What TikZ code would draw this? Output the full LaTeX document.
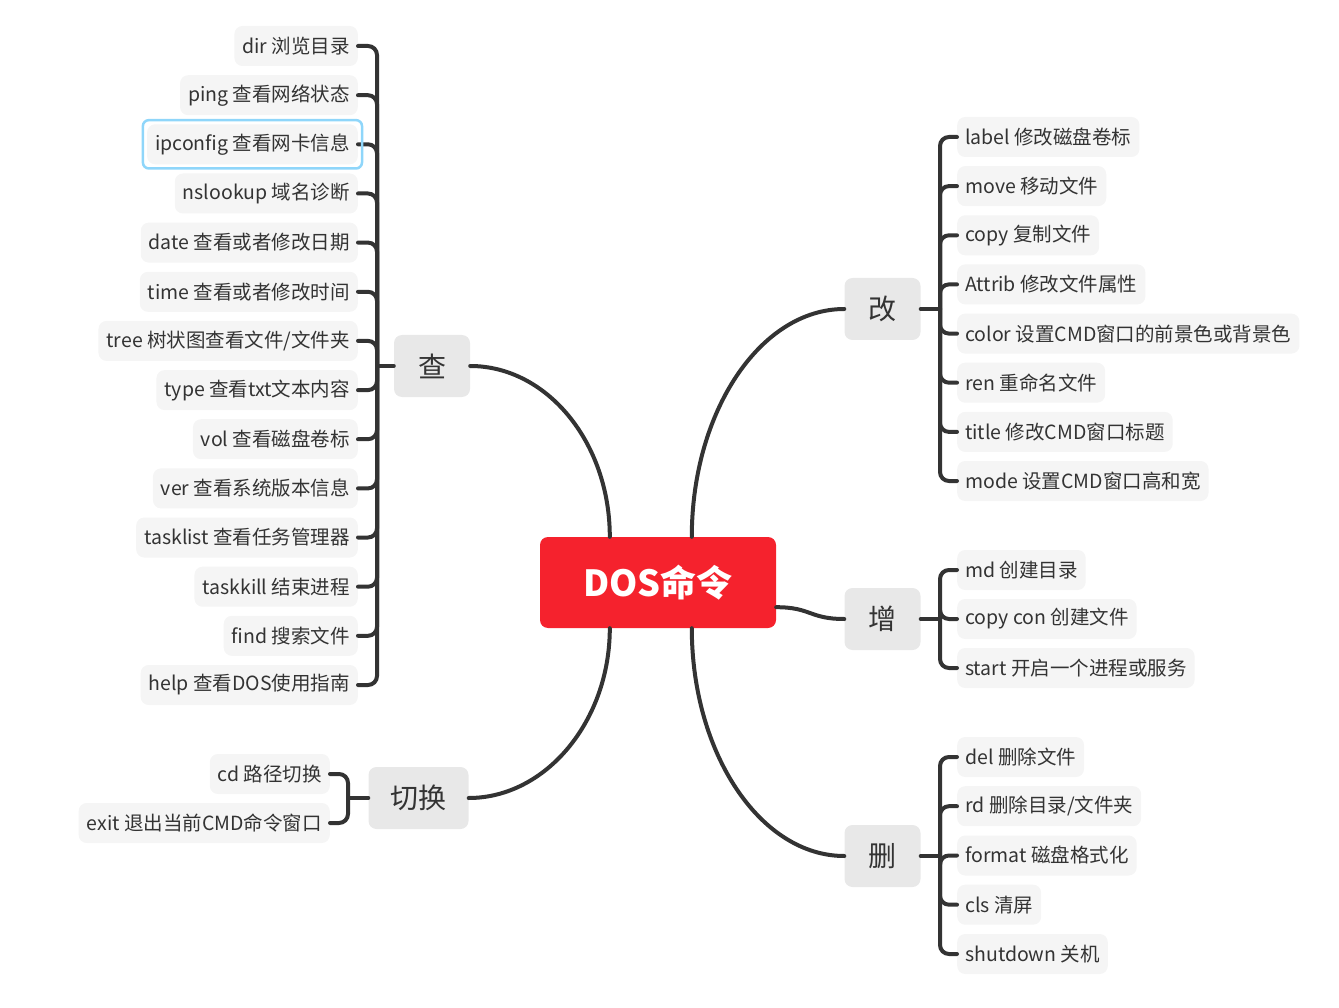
\documentclass[tikz,border=0pt]{standalone}
\usepackage{fontspec}
\setmainfont{Noto Sans CJK SC}
\usetikzlibrary{calc,fit}
\definecolor{rootred}{HTML}{F5222D}
\definecolor{topicgray}{HTML}{E8E8E8}
\definecolor{leafgray}{HTML}{F5F5F5}
\definecolor{txt}{HTML}{333333}
\definecolor{linec}{HTML}{333333}
\definecolor{selblue}{HTML}{8FD6FA}
\begin{document}
\begin{tikzpicture}[x=1pt,y=-1pt,
  leaf/.style={fill=leafgray, rounded corners=8pt, minimum height=40pt, inner xsep=8pt, inner ysep=0pt, text=txt, font=\fontsize{19.5}{23}\selectfont},
  topic/.style={fill=topicgray, rounded corners=8pt, minimum height=62pt, minimum width=76pt, inner xsep=22pt, text=txt, font=\fontsize{28}{32}\selectfont},
  rootbox/.style={fill=rootred, rounded corners=8pt, minimum height=91pt, minimum width=236pt, text=white, font=\fontsize{36}{40}\selectfont\bfseries},
  conn/.style={draw=linec, line width=4pt, line cap=round},
  brk/.style={conn, rounded corners=9pt}]
\useasboundingbox (0,0) rectangle (1339,1008);

% root and topics
\node[rootbox] (root) at (658,582.5) {DOS命令};
\node[topic] (cha) at (432,366) {查};
\node[topic] (gai) at (882.5,309) {改};
\node[topic] (zeng) at (882.5,619) {增};
\node[topic] (shan) at (882.5,856) {删};
\node[topic] (qh) at (418.5,798) {切换};

% main connectors
\coordinate (rTL) at ($(root.north west)+(70,0)$);
\coordinate (rTR) at ($(root.north west)+(152,0)$);
\coordinate (rBL) at ($(root.south west)+(70,0)$);
\coordinate (rBR) at ($(root.south west)+(152,0)$);
\coordinate (rR) at ($(root.south east)+(0,-21)$);
\draw[conn] (cha.east) .. controls ($(cha.east)+(77,0)$) and ($(rTL)+(0,-94)$) .. (rTL);
\draw[conn] (rTR) .. controls ($(rTR)+(0,-125)$) and ($(gai.west)+(-84,0)$) .. (gai.west);
\draw[conn] (rR) .. controls ($(rR)+(35,0)$) and ($(zeng.west)+(-35,0)$) .. (zeng.west);
\draw[conn] (rBR) .. controls ($(rBR)+(0,125)$) and ($(shan.west)+(-84,0)$) .. (shan.west);
\draw[conn] (rBL) .. controls ($(rBL)+(0,93)$) and ($(qh.east)+(77,0)$) .. (qh.east);

% 查 branch
\coordinate (chaT) at (377,366);
\draw[conn] (cha.west) -- (chaT);
\foreach \n/\y/\t in {
  c1/46/{dir 浏览目录},
  c2/95.2/{ping 查看网络状态},
  c3/144.3/{ipconfig 查看网卡信息},
  c4/193.5/{nslookup 域名诊断},
  c5/242.6/{date 查看或者修改日期},
  c6/291.8/{time 查看或者修改时间},
  c7/340.9/{tree 树状图查看文件/文件夹},
  c8/390.1/{type 查看txt文本内容},
  c9/439.2/{vol 查看磁盘卷标},
  c10/488.4/{ver 查看系统版本信息},
  c11/537.5/{tasklist 查看任务管理器},
  c12/586.7/{taskkill 结束进程},
  c13/635.8/{find 搜索文件},
  c14/685/{help 查看DOS使用指南}}{
  \node[leaf, anchor=east] (\n) at (358,\y) {\t};
  \draw[brk] (\n.east) -| (chaT);
}
\node[draw=selblue, line width=2.5pt, rounded corners=6pt, fit=(c3), inner sep=4pt] (c3sel) {};

% 改 branch
\coordinate (gaiT) at (940,309);
\draw[conn] (gai.east) -- (gaiT);
\foreach \n/\y/\t in {
  g1/137/{label 修改磁盘卷标},
  g2/186.1/{move 移动文件},
  g3/235.3/{copy 复制文件},
  g4/284.4/{Attrib 修改文件属性},
  g5/333.6/{color 设置CMD窗口的前景色或背景色},
  g6/382.7/{ren 重命名文件},
  g7/431.9/{title 修改CMD窗口标题},
  g8/481/{mode 设置CMD窗口高和宽}}{
  \node[leaf, anchor=west] (\n) at (957,\y) {\t};
  \draw[brk] (\n.west) -| (gaiT);
}

% 增 branch
\coordinate (zengT) at (940,619);
\draw[conn] (zeng.east) -- (zengT);
\foreach \n/\y/\t in {
  z1/570/{md 创建目录},
  z2/619/{copy con 创建文件},
  z3/668/{start 开启一个进程或服务}}{
  \node[leaf, anchor=west] (\n) at (957,\y) {\t};
  \draw[brk] (\n.west) -| (zengT);
}

% 删 branch
\coordinate (shanT) at (940,856);
\draw[conn] (shan.east) -- (shanT);
\foreach \n/\y/\t in {
  s1/757/{del 删除文件},
  s2/806.2/{rd 删除目录/文件夹},
  s3/855.5/{format 磁盘格式化},
  s4/904.7/{cls 清屏},
  s5/954/{shutdown 关机}}{
  \node[leaf, anchor=west] (\n) at (957,\y) {\t};
  \draw[brk] (\n.west) -| (shanT);
}

% 切换 branch
\coordinate (qhT) at (348,798);
\draw[conn] (qh.west) -- (qhT);
\foreach \n/\y/\t in {
  q1/774/{cd 路径切换},
  q2/823/{exit 退出当前CMD命令窗口}}{
  \node[leaf, anchor=east] (\n) at (330,\y) {\t};
  \draw[brk] (\n.east) -| (qhT);
}
\end{tikzpicture}
\end{document}
